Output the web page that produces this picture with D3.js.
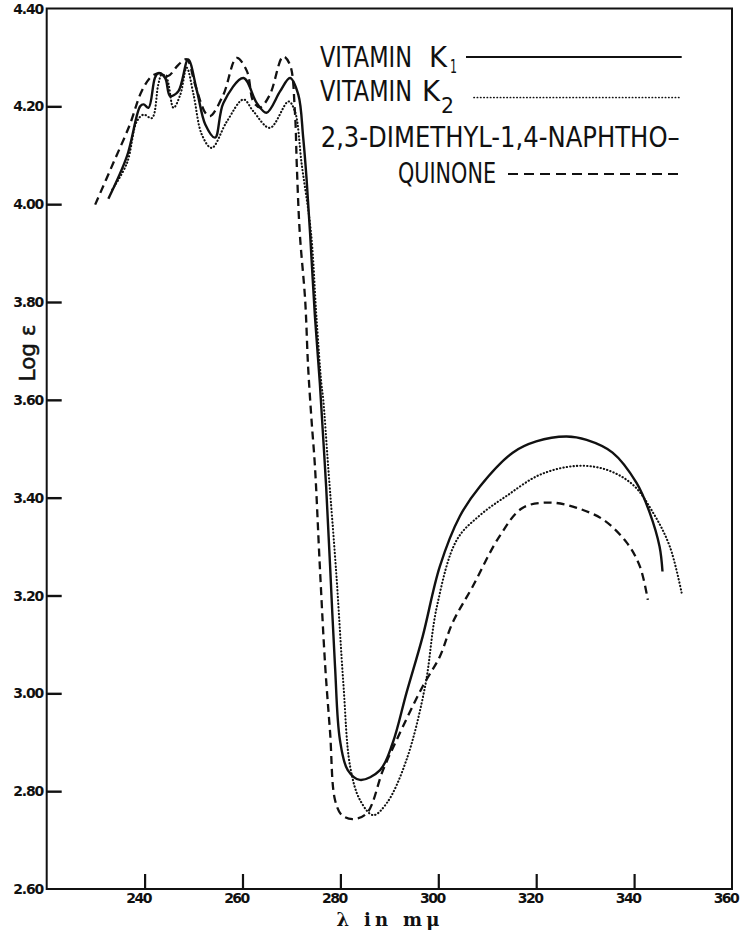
<!DOCTYPE html>
<html>
<head>
<meta charset="utf-8">
<script src="https://cdn.jsdelivr.net/npm/d3@7"></script>
<style>
  html, body { margin: 0; padding: 0; background: #fff; }
  svg { display: block; }
</style>
</head>
<body>
<svg id="chart" width="743" height="932"></svg>
<script>
// ---------- DATA ----------
const xTicks = [240, 260, 280, 300, 320, 340, 360];
const yTicks = [2.60, 2.80, 3.00, 3.20, 3.40, 3.60, 3.80, 4.00, 4.20, 4.40];
const yTickLabels = ["2.60", "2.80", "3.00", "3.20", "3.40", "3.60", "3.80", "4.00", "4.20", "4.40"];

// [wavelength (mμ), log ε]
const vitaminK1 = [
  [232.6, 4.011], [236.4, 4.098], [239.1, 4.200], [239.8, 4.204], [240.8, 4.197],
  [242.1, 4.258], [242.8, 4.268], [244.2, 4.258], [245.2, 4.221], [246.9, 4.231],
  [248.9, 4.296], [250.7, 4.231], [252.4, 4.163], [254.4, 4.136], [256.1, 4.207],
  [260.2, 4.258], [262.9, 4.207], [264.9, 4.187], [267.7, 4.231], [269.7, 4.258],
  [271.4, 4.224], [272.4, 4.136], [273.1, 4.050], [273.8, 3.941], [274.8, 3.770],
  [275.8, 3.634], [276.5, 3.520], [277.1, 3.420], [277.9, 3.259], [278.9, 3.055],
  [279.9, 2.905], [281.5, 2.843], [284.0, 2.823], [288.1, 2.843], [290.7, 2.899],
  [293.5, 3.001], [296.8, 3.116], [300.3, 3.259], [304.4, 3.362], [308.5, 3.423],
  [315.2, 3.492], [320.0, 3.515], [326.2, 3.525], [330.3, 3.518], [335.6, 3.492],
  [340.5, 3.430], [343.2, 3.369], [345.2, 3.300], [345.8, 3.249]
];

const vitaminK2 = [
  [233.4, 4.030], [236.4, 4.084], [238.4, 4.169], [239.8, 4.183], [241.5, 4.176],
  [242.8, 4.245], [243.5, 4.265], [244.5, 4.258], [245.9, 4.197], [247.3, 4.224],
  [248.6, 4.279], [250.0, 4.224], [251.7, 4.142], [253.7, 4.115], [256.8, 4.169],
  [260.2, 4.214], [262.2, 4.190], [265.6, 4.156], [269.4, 4.210], [270.7, 4.190],
  [272.1, 4.081], [274.0, 3.941], [275.1, 3.770], [276.1, 3.634], [276.5, 3.600],
  [277.5, 3.464], [279.2, 3.239], [280.6, 3.021], [282.0, 2.850], [284.0, 2.782],
  [286.7, 2.751], [289.5, 2.776], [293.5, 2.864], [297.3, 3.014], [299.7, 3.177],
  [303.8, 3.314], [308.5, 3.364], [314.0, 3.404], [320.8, 3.447], [328.3, 3.465],
  [334.4, 3.457], [339.8, 3.426], [343.9, 3.369], [347.3, 3.300], [349.7, 3.206]
];

const dimethylNaphthoquinone = [
  [229.9, 3.999], [233.6, 4.084], [237.0, 4.163], [239.4, 4.231], [241.5, 4.262],
  [243.2, 4.268], [244.8, 4.262], [246.9, 4.285], [248.6, 4.296], [250.3, 4.245],
  [252.4, 4.187], [253.4, 4.180], [256.1, 4.224], [258.8, 4.299], [260.9, 4.272],
  [262.2, 4.210], [263.6, 4.198], [265.6, 4.224], [268.3, 4.302], [269.7, 4.285],
  [270.7, 4.190], [271.1, 4.077], [271.7, 3.941], [272.8, 3.804], [273.4, 3.668],
  [274.1, 3.559], [274.8, 3.464], [275.8, 3.259], [276.9, 3.055], [277.9, 2.919],
  [278.9, 2.782], [280.3, 2.751], [282.6, 2.743], [285.4, 2.755], [288.7, 2.843],
  [291.5, 2.905], [296.8, 3.014], [300.3, 3.075], [302.9, 3.144], [307.0, 3.218],
  [312.5, 3.321], [317.2, 3.379], [322.8, 3.390], [328.3, 3.379], [333.7, 3.355],
  [338.5, 3.308], [341.2, 3.259], [342.8, 3.191]
];

const legendLabels = ["VITAMIN", "K", "1", "VITAMIN", "K", "2", "2,3-DIMETHYL-1,4-NAPHTHO\u2013", "QUINONE"];

// ---------- CHART ----------
const svg = d3.select("#chart");
const ink = "#111";

const x = d3.scaleLinear().domain([220, 360]).range([46.7, 732]);
const y = d3.scaleLinear().domain([2.60, 4.40]).range([889, 8.5]);

// frame
svg.append("rect")
  .attr("x", x(220)).attr("y", y(4.40))
  .attr("width", x(360) - x(220)).attr("height", y(2.60) - y(4.40))
  .attr("fill", "none").attr("stroke", ink).attr("stroke-width", 2);

// left axis ticks (inward)
const yAxis = d3.axisRight(y).tickValues(yTicks.slice(1, -1)).tickSize(15).tickFormat("");
svg.append("g").attr("transform", `translate(${x(220)},0)`).call(yAxis)
  .call(g => g.select(".domain").remove())
  .call(g => g.selectAll("line").attr("stroke", ink).attr("stroke-width", 2.4));

// bottom axis ticks (inward)
const xAxis = d3.axisTop(x).tickValues(xTicks.slice(0, -1)).tickSize(15).tickFormat("");
svg.append("g").attr("transform", `translate(0,${y(2.60)})`).call(xAxis)
  .call(g => g.select(".domain").remove())
  .call(g => g.selectAll("line").attr("stroke", ink).attr("stroke-width", 2.2));

// tick labels
const tickFont = "'DejaVu Sans', sans-serif";
svg.append("g").selectAll("text").data(yTicks).join("text")
  .attr("x", 43).attr("y", d => y(d) + 5)
  .attr("text-anchor", "end")
  .attr("font-family", tickFont).attr("font-size", 14).attr("font-weight", "bold")
  .attr("letter-spacing", -1.2)
  .attr("fill", ink)
  .text((d, i) => yTickLabels[i]);

svg.append("g").selectAll("text").data(xTicks).join("text")
  .attr("x", d => x(d) - 6).attr("y", 903)
  .attr("text-anchor", "middle")
  .attr("font-family", tickFont).attr("font-size", 14).attr("font-weight", "bold")
  .attr("letter-spacing", -1.5)
  .attr("fill", ink)
  .text(d => d);

// axis titles
svg.append("text")
  .attr("transform", "translate(35,353) rotate(-90)")
  .attr("text-anchor", "middle")
  .attr("font-family", "'DejaVu Sans', sans-serif").attr("font-size", 21)
  .attr("textLength", 57).attr("lengthAdjust", "spacingAndGlyphs")
  .attr("fill", ink).attr("stroke", ink).attr("stroke-width", 0.5)
  .text("Log \u03B5");

svg.append("text")
  .attr("x", 388).attr("y", 926)
  .attr("text-anchor", "middle")
  .attr("font-family", "'DejaVu Serif', serif").attr("font-size", 18).attr("font-weight", "bold")
  .attr("textLength", 103).attr("lengthAdjust", "spacing")
  .attr("fill", ink)
  .text("\u03BB in m\u03BC");

// curves
const line = d3.line()
  .x(d => x(d[0])).y(d => y(d[1]))
  .curve(d3.curveCatmullRom.alpha(0.5));

svg.append("path").datum(vitaminK1)
  .attr("d", line).attr("fill", "none").attr("stroke", ink)
  .attr("stroke-width", 2.4).attr("stroke-linejoin", "round");

svg.append("path").datum(vitaminK2)
  .attr("d", line).attr("fill", "none").attr("stroke", ink)
  .attr("stroke-width", 2.1).attr("stroke-linecap", "round")
  .attr("stroke-dasharray", "0.3,3.1");

svg.append("path").datum(dimethylNaphthoquinone)
  .attr("d", line).attr("fill", "none").attr("stroke", ink)
  .attr("stroke-width", 2.3).attr("stroke-dasharray", "8,5");

// legend
const legFont = "'Liberation Sans Narrow', 'DejaVu Sans Condensed', sans-serif";
const lg = svg.append("g").attr("fill", ink).attr("font-family", legFont);
const addText = (txt, xx, yy, size, len) =>
  lg.append("text").attr("x", xx).attr("y", yy).attr("font-size", size)
    .attr("fill", ink)
    .attr("textLength", len).attr("lengthAdjust", "spacingAndGlyphs").text(txt);

addText(legendLabels[0], 320, 67, 28, 92);
addText(legendLabels[1], 429, 67, 28, 18);
addText(legendLabels[2], 450, 73, 20, 7);
addText(legendLabels[3], 320, 101, 28, 92);
addText(legendLabels[4], 422, 101, 28, 18);
addText(legendLabels[5], 441, 113, 21, 13);
addText(legendLabels[6], 320.7, 147, 28, 359);
addText(legendLabels[7], 398, 183, 28, 98);

svg.append("line").attr("x1", 466).attr("x2", 681.7).attr("y1", 57).attr("y2", 57)
  .attr("stroke", ink).attr("stroke-width", 2.2);
svg.append("line").attr("x1", 474).attr("x2", 681.7).attr("y1", 97.5).attr("y2", 97.5)
  .attr("stroke", ink).attr("stroke-width", 1.7).attr("stroke-linecap", "round")
  .attr("stroke-dasharray", "0.3,3");
svg.append("line").attr("x1", 508).attr("x2", 681.7).attr("y1", 174).attr("y2", 174)
  .attr("stroke", ink).attr("stroke-width", 2).attr("stroke-dasharray", "10,6");
</script>
</body>
</html>
